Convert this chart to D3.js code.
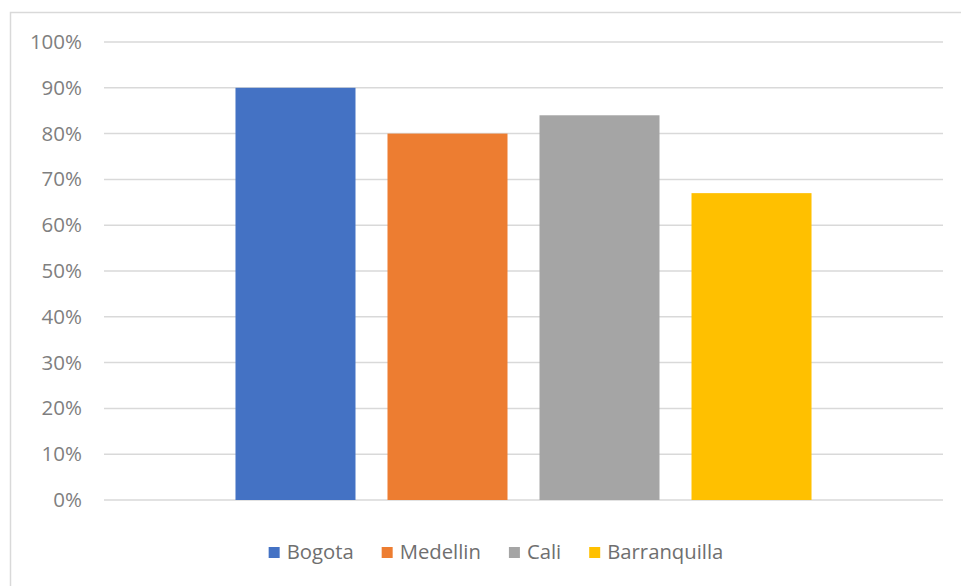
<!doctype html>
<html lang="en">
<head>
<meta charset="UTF-8">
<title>Cities</title>
<script src="https://d3js.org/d3.v7.min.js"></script>
<style>
body { margin: 0; background: #fff; font-family: "Open Sans", sans-serif; }
svg { display: block; }
.axis text { font-family: "Open Sans", sans-serif; font-size: 20.5px; fill: #7f7f7f; }
.grid line { stroke: #d9d9d9; stroke-width: 1.5; }
.legend text { font-family: "Open Sans", sans-serif; font-size: 20.3px; fill: #6f6f6f; }
</style>
</head>
<body>
<div id="plot"></div>
<script>

var cities = ["Bogota", "Medellin", "Cali", "Barranquilla"];
var shares = [0.90, 0.80, 0.84, 0.67];
var colors = ["#4472c4", "#ed7d31", "#a5a5a5", "#ffc000"];
var ticks = [0, 0.1, 0.2, 0.3, 0.4, 0.5, 0.6, 0.7, 0.8, 0.9, 1.0];

var width = 961;
var height = 586;
var plotLeft = 104, plotRight = 943, plotTop = 42, plotBottom = 500;

var svg = d3.select("#plot").append("svg")
	.attr("width", width)
	.attr("height", height);

// chart frame
svg.append("rect")
	.attr("x", 10.5)
	.attr("y", 12.5)
	.attr("width", 980)
	.attr("height", 600)
	.style("fill", "none")
	.style("stroke", "#d9d9d9")
	.style("stroke-width", 1.5);

var xScale = d3.scaleBand().domain(cities)
	.range([plotLeft, plotRight])
	.paddingInner(32 / 152)
	.paddingOuter(0.865);

var yScale = d3.scaleLinear().domain([0, 1])
	.range([plotBottom, plotTop]);

svg.append("g")
	.attr("class", "grid")
	.selectAll("line")
	.data(ticks)
	.enter().append("line")
	.attr("x1", plotLeft)
	.attr("x2", plotRight)
	.attr("y1", function (d) { return yScale(d); })
	.attr("y2", function (d) { return yScale(d); });

var yAxis = d3.axisLeft(yScale)
	.tickValues(ticks)
	.tickFormat(d3.format(".0%"))
	.tickSize(0)
	.tickPadding(0);

var yG = svg.append("g")
	.attr("class", "axis")
	.attr("transform", "translate(82, 0)")
	.call(yAxis);
yG.select(".domain").remove();
yG.selectAll("text").attr("font-size", null).attr("font-family", null);

svg.append("g")
	.selectAll("rect")
	.data(shares)
	.enter().append("rect")
	.attr("x", function (d, i) { return xScale(cities[i]); })
	.attr("width", xScale.bandwidth())
	.attr("y", function (d) { return yScale(d); })
	.attr("height", function (d) { return yScale(0) - yScale(d); })
	.style("fill", function (d, i) { return colors[i]; });

// legend
var legend = svg.append("g").attr("class", "legend");
var items = legend.selectAll("g")
	.data(cities)
	.enter().append("g");

items.append("rect")
	.attr("width", 11)
	.attr("height", 11)
	.attr("y", 547)
	.style("fill", function (d, i) { return colors[i]; });

items.append("text")
	.attr("x", 18)
	.attr("y", 559)
	.text(function (d) { return d; });

var pos = 0;
var offsets = [];
items.each(function () {
	offsets.push(pos);
	pos += 18 + d3.select(this).select("text").node().getComputedTextLength() + 28;
});
var total = pos - 28;
var start = 496 - total / 2;
items.attr("transform", function (d, i) { return "translate(" + (start + offsets[i]) + ", 0)"; });

</script>
</body>
</html>
